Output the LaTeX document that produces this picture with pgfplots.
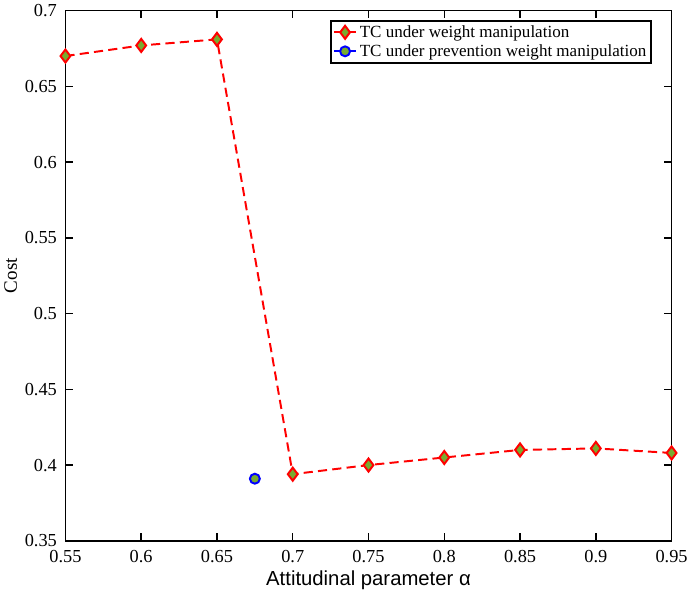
\documentclass[border=0pt]{standalone}
\usepackage{fontspec}
\setmainfont{Liberation Serif}
\newfontfamily\arialfont{Liberation Sans}
\usepackage{pgfplots}
\pgfplotsset{compat=1.18}
\definecolor{mgreen}{rgb}{0.47,0.67,0.19}
\begin{document}
\begin{tikzpicture}
\begin{axis}[
  width=463pt, height=405pt, scale only axis,
  xmin=0.55, xmax=0.95, ymin=0.35, ymax=0.7,
  xtick={0.55,0.6,...,0.95}, ytick={0.35,0.4,...,0.7},
  xticklabels={0.55,0.6,0.65,0.7,0.75,0.8,0.85,0.9,0.95},
  yticklabels={0.35,0.4,0.45,0.5,0.55,0.6,0.65,0.7},
  tick align=inside, tick pos=both,
  major tick length=6pt,
  axis line style={line width=1.1pt},
  every tick/.style={black, line width=1.1pt},
  ticklabel style={font=\fontsize{14}{16}\selectfont},
  xticklabel style={yshift=-4pt},
  yticklabel style={xshift=-3pt},
  /pgf/number format/assume math mode=true,
  xlabel={\arialfont Attitudinal parameter α},
  ylabel={Cost},
  xlabel style={font=\fontsize{15.5}{17}\selectfont, yshift=1pt},
  ylabel style={font=\fontsize{14.5}{16}\selectfont, yshift=-1pt},
  legend style={at={(0.967,0.982)}, anchor=north east, font=\fontsize{13}{15}\selectfont,
    draw=black, line width=1.1pt, inner sep=1.5pt, row sep=0pt},
  legend cell align=left,
]
\addplot[red, dash pattern=on 7pt off 4pt, line width=1.5pt, mark=diamond*, mark size=5pt,
  mark options={solid, fill=mgreen, draw=red, line width=1.5pt}]
coordinates {
(0.55,0.670) (0.60,0.677) (0.65,0.681) (0.70,0.394) (0.75,0.400)
(0.80,0.405) (0.85,0.410) (0.90,0.411) (0.95,0.408)
};
\addlegendentry{TC under weight manipulation}
\addplot[blue, solid, line width=1.5pt, mark=*, mark size=3.8pt,
  mark options={fill=mgreen, draw=blue, line width=1.5pt}]
coordinates {(0.675,0.391)};
\addlegendentry{TC under prevention weight manipulation}
\end{axis}
\end{tikzpicture}
\end{document}
